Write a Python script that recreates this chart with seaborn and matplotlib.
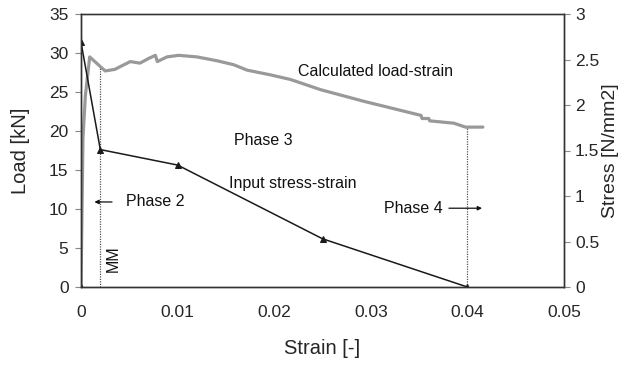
import matplotlib
matplotlib.use("Agg")
import matplotlib.pyplot as plt
import seaborn as sns
import pandas as pd

sns.set_theme(style="white")
plt.rcParams['font.family'] = ['Liberation Sans', 'DejaVu Sans']

# Calculated load-strain (left axis, kN)
calc_strain = [0.0, 0.0002, 0.00045, 0.0009, 0.0025, 0.0035, 0.0051, 0.0061, 0.0070,
               0.0077, 0.0079, 0.0089, 0.0101, 0.0120, 0.0141, 0.0158, 0.0172,
               0.0196, 0.0217, 0.0248, 0.0293, 0.0352, 0.0353, 0.0360, 0.0361,
               0.0386, 0.0398, 0.0416]
calc_load = [0.0, 19.0, 24.5, 29.5, 27.7, 27.9, 28.9, 28.7, 29.3,
             29.7, 28.9, 29.5, 29.7, 29.5, 29.0, 28.5, 27.8,
             27.2, 26.6, 25.3, 23.8, 22.0, 21.6, 21.6, 21.3,
             21.0, 20.5, 20.5]

# Input stress-strain (right axis, N/mm2)
input_strain = [0.0, 0.0, 0.002, 0.010, 0.025, 0.040]
input_stress = [0.0, 2.69, 1.51, 1.34, 0.53, 0.0]

x_ticks = [0, 0.01, 0.02, 0.03, 0.04, 0.05]
x_labels = ["0", "0.01", "0.02", "0.03", "0.04", "0.05"]
load_ticks = [0, 5, 10, 15, 20, 25, 30, 35]
stress_ticks = [0, 0.5, 1, 1.5, 2, 2.5, 3]
stress_labels = ["0", "0.5", "1", "1.5", "2", "2.5", "3"]

calc_df = pd.DataFrame({"strain": calc_strain, "load": calc_load})
inp_df = pd.DataFrame({"strain": input_strain, "stress": input_stress})

fig = plt.figure(figsize=(6.25, 3.67), dpi=100)
ax = fig.add_axes([81/625, 1-287/367, (564-81)/625, (287-14)/367])
ax2 = ax.twinx()

sns.lineplot(data=calc_df, x="strain", y="load", ax=ax, color="#999999",
             linewidth=2.3, sort=False, estimator=None)
sns.lineplot(data=inp_df, x="strain", y="stress", ax=ax2, color="#1a1a1a",
             linewidth=1.1, sort=False, estimator=None, marker="^",
             markersize=5, markeredgecolor="#1a1a1a")

# dotted phase boundaries
ax.vlines(0.002, 0, 28.2, colors="#555555", linestyles=(0, (1, 1)), linewidth=0.9)
ax.vlines(0.040, 0, 20.5, colors="#555555", linestyles=(0, (1, 1)), linewidth=0.9)

ax.set_xlim(0, 0.05)
ax.set_ylim(0, 35)
ax2.set_ylim(0, 3)
ax.set_xticks(x_ticks)
ax.set_xticklabels(x_labels)
ax.set_yticks(load_ticks)
ax2.set_yticks(stress_ticks)
ax2.set_yticklabels(stress_labels)

ax.set_xlabel("Strain [-]", fontsize=14.5, labelpad=14)
ax.set_ylabel("Load [kN]", fontsize=14.5, labelpad=14)
ax2.set_ylabel("Stress [N/mm2]", fontsize=14, labelpad=2)

for a in (ax, ax2):
    a.tick_params(axis="both", which="both", labelsize=12.5, length=4,
                  width=0.8, color="#888888", direction="out", pad=5)
    for s in a.spines.values():
        s.set_color("#333333")
        s.set_linewidth(1.0)
ax.spines["top"].set_color("#666666")
ax.tick_params(axis="x", pad=9)
ax.tick_params(axis="y", left=True)
ax2.tick_params(axis="y", right=True, pad=4)

fs = 11.5
ax.text(0.0305, 27.6, "Calculated load-strain", fontsize=fs, ha="center", va="center", color="#111111")
ax.text(0.0189, 18.8, "Phase 3", fontsize=fs, ha="center", va="center", color="#111111")
ax.text(0.0219, 13.3, "Input stress-strain", fontsize=fs, ha="center", va="center", color="#111111")
ax.text(0.0047, 10.9, "Phase 2", fontsize=fs, ha="left", va="center", color="#111111")
ax.text(0.0344, 10.1, "Phase 4", fontsize=fs, ha="center", va="center", color="#111111")
ax.text(0.0033, 3.6, "MM", fontsize=fs, ha="center", va="center", rotation=90, color="#111111")

arrow_kw = dict(arrowstyle="-|>", color="#111111", lw=0.9, mutation_scale=6)
ax.annotate("", xy=(0.0011, 10.9), xytext=(0.0035, 10.9), arrowprops=arrow_kw)
ax.annotate("", xy=(0.0418, 10.1), xytext=(0.0378, 10.1), arrowprops=arrow_kw)

fig.savefig("out.png", dpi=100)
